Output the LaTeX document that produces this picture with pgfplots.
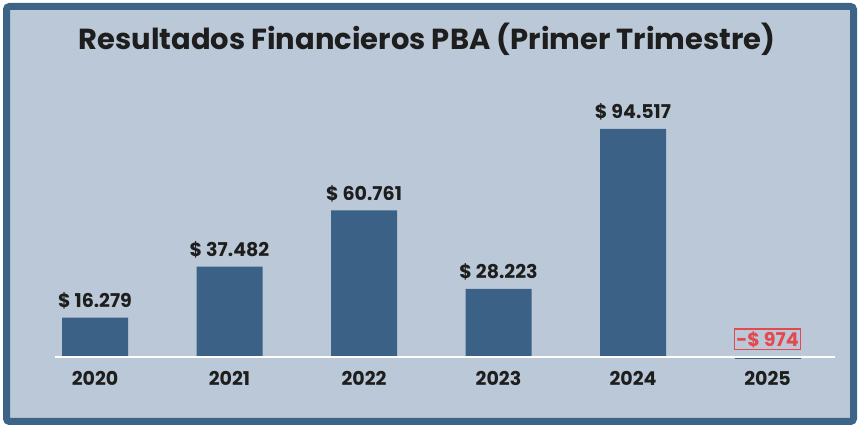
\documentclass[border=0pt]{standalone}
\usepackage{fontspec}
\setmainfont{Poppins}
\usepackage{pgfplots}
\pgfplotsset{compat=1.18}
\definecolor{bg}{HTML}{BAC8D7}
\definecolor{framec}{HTML}{3D6387}
\definecolor{barc}{HTML}{3B6286}
\definecolor{txt}{HTML}{1E1E1E}
\definecolor{neg}{HTML}{E5484D}
\pgfplotstableread{
x y label
0 16279 16.279
1 37482 37.482
2 60761 60.761
3 28223 28.223
4 94517 94.517
}\pos
\pgfplotstableread{
x y
5 -974
}\negv
\begin{document}
\begin{tikzpicture}[x=1pt,y=1pt]
\useasboundingbox (0,0) rectangle (862,433);
\fill[white] (0,0) rectangle (862,433);
\draw[framec, line width=7pt, fill=bg, rounded corners=3pt] (6.5,11.5) rectangle (853.5,426.5);
\node[font=\bfseries\fontsize{29}{32}\selectfont, text=txt, anchor=base] at (427,383) {Resultados Financieros PBA (Primer Trimestre)};
\begin{axis}[
  at={(27.75pt,51.88pt)}, anchor=south west,
  scale only axis, width=807pt, height=289.47pt,
  xmin=-0.5, xmax=5.5, ymin=-10000, ymax=110000,
  axis line style={draw=none}, ytick=\empty,
  xtick={0,1,2,3,4,5}, xticklabels={2020,2021,2022,2023,2024,2025},
  major tick length=0pt,
  xticklabel style={font=\bfseries\fontsize{19}{22}\selectfont, text=txt, anchor=center, yshift=3pt},
  ybar, bar shift=0pt, bar width=66pt,
  clip=false,
]
\addplot[draw=none, fill=barc, point meta=explicit symbolic,
  nodes near coords={\$ \pgfplotspointmeta},
  nodes near coords style={font=\bfseries\fontsize{19}{22}\selectfont, text=txt, anchor=south, yshift=5pt}]
  table[x=x, y=y, meta=label] {\pos};
\addplot[draw=none, fill=barc] table[x=x, y=y] {\negv};
\draw[white, line width=1.2pt] (axis cs:-0.297,0) -- (axis cs:5.5,0);
\node[draw=neg, line width=1.3pt, text=neg, fill=bg, inner sep=2pt, font=\bfseries\fontsize{19}{22}\selectfont, anchor=center] at ([yshift=17.5pt]axis cs:5,0) {-\$ 974};
\end{axis}
\end{tikzpicture}
\end{document}
